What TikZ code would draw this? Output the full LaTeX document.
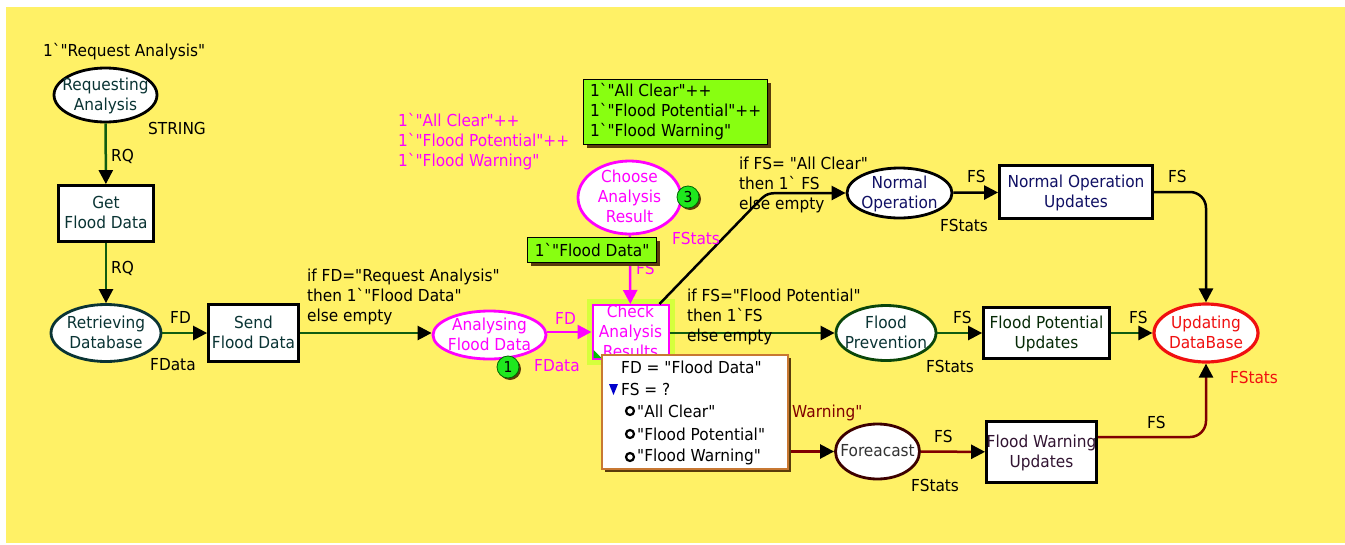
\documentclass[tikz,border=0pt]{standalone}
\usepackage{fontspec}
\setmainfont{DejaVu Sans}[Ligatures=TeXOff, FakeStretch=0.93]
\usetikzlibrary{shapes.geometric,arrows.meta,calc,shadows}

\definecolor{bgyellow}{RGB}{255,241,102}
\definecolor{arcgreen}{RGB}{16,92,16}
\definecolor{cpnmag}{RGB}{255,0,255}
\definecolor{arcred}{RGB}{128,0,0}
\definecolor{cpnred}{RGB}{240,16,16}
\definecolor{markfill}{RGB}{136,255,17}
\definecolor{tealtext}{RGB}{10,52,52}
\definecolor{navytext}{RGB}{16,16,100}
\definecolor{tokgreen}{RGB}{30,232,30}
\definecolor{glow}{RGB}{214,255,60}
\definecolor{popedge}{RGB}{200,120,50}
\definecolor{shade}{RGB}{90,60,10}
\definecolor{fpedge}{RGB}{10,70,10}
\definecolor{foreedge}{RGB}{60,0,0}
\definecolor{fwutext}{RGB}{50,20,50}

\newcommand\cpnfont{\fontsize{16.5}{20}\selectfont}
% centred text block of zero size, so that a node keeps its given size
\newcommand\ptxt[1]{\makebox[0pt]{\raisebox{-5.5pt}[0pt][0pt]{%
  \begin{tabular}[c]{@{}c@{}}#1\end{tabular}}}}

\tikzset{
  place/.style={ellipse, draw, line width=2.8pt, fill=white, inner sep=0pt,
                font=\cpnfont},
  trans/.style={rectangle, draw=black, line width=2.8pt, fill=white, inner sep=0pt,
                font=\cpnfont},
  arc/.style={line width=2.5pt},
  tipk/.style={-{Triangle[length=14pt,width=14pt,color=black]}},
  tipm/.style={-{Triangle[length=14pt,width=14pt,color=cpnmag]}},
  lbl/.style={font=\cpnfont, inner sep=0pt, anchor=west, align=left},
  token/.style={circle, fill=tokgreen, draw=green!40!black, line width=0.8pt,
                minimum size=22pt, inner sep=0pt, font=\fontsize{15}{15}\selectfont,
                drop shadow={shadow xshift=2pt,shadow yshift=-2pt,fill=shade,opacity=1}},
  markbox/.style={draw=black, line width=1.2pt, fill=markfill, inner xsep=4pt,
                  inner ysep=2pt, font=\cpnfont, align=left, anchor=north west,
                  drop shadow={shadow xshift=3pt,shadow yshift=-3pt,fill=shade,opacity=1}},
  bullet/.style={circle, draw=black, line width=2.2pt, fill=white,
                 minimum size=8pt, inner sep=0pt},
}

\begin{document}
\begin{tikzpicture}[x=1pt,y=-1pt]
\useasboundingbox (0,0) rectangle (1345,544);
\fill[white] (0,0) rectangle (1345,544);
\fill[bgyellow] (6,7) rectangle (1345,543);

% ---------- places and transitions ----------
\node[place, draw=black, text=tealtext, minimum width=103pt, minimum height=54pt]
  (ra) at (105.5,95) {\ptxt{Requesting\\Analysis}};
\node[trans, text=tealtext, minimum width=95pt, minimum height=56pt]
  (gfd) at (106,213.5) {\ptxt{Get\\Flood Data}};
\node[place, draw=tealtext, text=tealtext, minimum width=110pt, minimum height=57pt]
  (rd) at (106,333) {\ptxt{Retrieving\\Database}};
\node[trans, text=tealtext, minimum width=90pt, minimum height=57pt]
  (sfd) at (253.5,333) {\ptxt{Send\\Flood Data}};
\node[place, draw=cpnmag, text=cpnmag, minimum width=113pt, minimum height=48pt]
  (ana) at (489.5,335) {\ptxt{Analysing\\Flood Data}};
\node[place, draw=cpnmag, text=cpnmag, minimum width=103pt, minimum height=73pt]
  (cho) at (629.5,197.5) {\ptxt{Choose\\Analysis\\Result}};

% highlighted transition
\node[fill=glow, minimum width=88pt, minimum height=66pt, inner sep=0pt]
  (chkglow) at (630.5,332) {};
\node[trans, draw=cpnmag, line width=2pt, text=cpnmag, minimum width=76pt, minimum height=54pt]
  (chk) at (630.5,332) {\ptxt{Check\\Analysis\\Results}};
\fill[green!75!black] (chk.south west) ++(2,-2) -- ++(0,-8) -- ++(8,8) -- cycle;

\node[place, draw=black, text=navytext, minimum width=105pt, minimum height=50pt]
  (no) at (899.5,193) {\ptxt{Normal\\Operation}};
\node[trans, text=navytext, minimum width=153pt, minimum height=53pt]
  (nou) at (1076,192) {\ptxt{Normal Operation\\Updates}};
\node[place, draw=fpedge, text=tealtext, minimum width=100pt, minimum height=55pt]
  (fp) at (886,333) {\ptxt{Flood\\Prevention}};
\node[trans, text=fpedge!60!black, minimum width=126pt, minimum height=51pt]
  (fpu) at (1046.5,333) {\ptxt{Flood Potential\\Updates}};
\node[place, draw=foreedge, text=black!80, minimum width=84pt, minimum height=55pt]
  (fore) at (877.5,451.5) {\ptxt{Foreacast}};
\node[trans, text=fwutext, minimum width=110pt, minimum height=61pt]
  (fwu) at (1041.5,452) {\ptxt{Flood Warning\\Updates}};
\node[place, draw=cpnred, text=cpnred, line width=3.2pt, minimum width=104pt, minimum height=58pt]
  (upd) at (1206,333) {\ptxt{Updating\\DataBase}};

% ---------- tokens ----------
\node[token] (tok1) at (508,367) {1};
\node[token] (tok3) at (688,197) {3};

% ---------- arcs ----------
\draw[arc, arcgreen, tipk] (ra) -- (gfd);
\draw[arc, arcgreen, tipk] (gfd) -- (rd);
\draw[arc, arcgreen, tipk] (rd) -- (sfd);
\draw[arc, arcgreen, tipk] (sfd.east) -- (sfd.east -| ana.west);
\draw[arc, cpnmag, tipm] (ana.east |- chk) -- (chk.west);
\draw[arc, cpnmag, tipm] (cho) -- (chk);
\draw[arc, black, tipk] ($(chk.north east)+(-10,0)$) -- (757,203)
  .. controls (767,193) .. (785,193) -- (no.west);
\draw[arc, black, tipk] (no) -- (nou);
\draw[arc, black, tipk, rounded corners=16pt] (nou.east) -| (upd.north);
\draw[arc, arcgreen, tipk] (chk.east |- fp) -- (fp.west);
\draw[arc, arcgreen, tipk] (fp) -- (fpu);
\draw[arc, arcgreen, tipk] (fpu) -- (upd);
\draw[arc, arcred, tipk] (chk.south) |- (fore.west);
\draw[arc, arcred, tipk] (fore) -- (fwu);
\draw[arc, arcred, tipk, rounded corners=16pt] ($(fwu.east)+(0,-15)$) -| (upd.south);

% ---------- inscriptions ----------
\node[lbl] (l-init) at (43,52) {1`"Request Analysis"};
\node[lbl] (l-str) at (148,128) {STRING};
\node[lbl] (l-rq1) at (111,156) {RQ};
\node[lbl] (l-rq2) at (111,268) {RQ};
\node[lbl] (l-fd1) at (170,317) {FD};
\node[lbl] (l-fdata1) at (150,365) {FData};
\node[lbl] (l-if1) at (307,297) {if FD="Request Analysis"\\then 1`"Flood Data"\\else empty};
\node[lbl, text=cpnmag] (l-init3) at (398,142) {1`"All Clear"++\\1`"Flood Potential"++\\1`"Flood Warning"};
\node[lbl, text=cpnmag] (l-fst3) at (672,238) {FStats};
\node[lbl, text=cpnmag] (l-fs3) at (636,268) {FS};
\node[lbl, text=cpnmag] (l-fd2) at (555,318) {FD};
\node[lbl, text=cpnmag] (l-fdata2) at (534,366) {FData};
\node[lbl] (l-if2) at (739,185) {if FS= "All Clear"\\then 1` FS\\else empty};
\node[lbl] (l-fs4) at (967,176) {FS};
\node[lbl] (l-fst4) at (940,225) {FStats};
\node[lbl] (l-fs5) at (1168,176) {FS};
\node[lbl] (l-if3) at (687,317) {if FS="Flood Potential"\\then 1`FS\\else empty};
\node[lbl] (l-fs6) at (953,317) {FS};
\node[lbl] (l-fst6) at (926,366) {FStats};
\node[lbl] (l-fs7) at (1129,317) {FS};
\node[lbl, text=cpnred] (l-fst8) at (1230,377) {FStats};
\node[lbl, text=arcred] (l-warn) at (792,413) {Warning"};
\node[lbl] (l-fs9) at (934,436) {FS};
\node[lbl] (l-fst9) at (911,485) {FStats};
\node[lbl] (l-fs10) at (1147,422) {FS};

% ---------- marking boxes ----------
\node[markbox, minimum width=184pt, minimum height=65pt]
  (m3) at (583,79) {1`"All Clear"++\\1`"Flood Potential"++\\1`"Flood Warning"};
\node[markbox, minimum width=129pt, minimum height=25pt]
  (m1) at (527,237) {1`"Flood Data"};

% ---------- binding popup ----------
\node[draw=popedge, line width=1.5pt, fill=white, minimum width=186pt, minimum height=114pt,
      inner sep=0pt, drop shadow={shadow xshift=3pt,shadow yshift=-3pt,fill=shade,opacity=1}]
  (pop) at (695,412) {};
\node[lbl] (p-fd) at (621,367) {FD = "Flood Data"};
\fill[blue!80!black] (609,384) -- (618,384) -- (613.5,395) -- cycle;
\node[lbl] (p-fs) at (621,389) {FS = ?};
\node[bullet] (b1) at (630,411) {};
\node[lbl] (p-v1) at (637,411) {"All Clear"};
\node[bullet] (b2) at (630,434) {};
\node[lbl] (p-v2) at (637,434) {"Flood Potential"};
\node[bullet] (b3) at (630,457) {};
\node[lbl] (p-v3) at (637,457) {"Flood Warning"};
\end{tikzpicture}
\end{document}
